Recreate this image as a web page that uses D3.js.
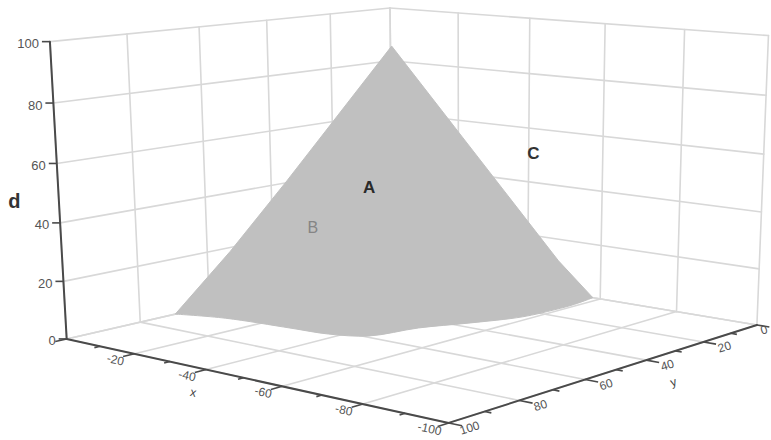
<!DOCTYPE html>
<html>
<head>
<meta charset="utf-8">
<script src="https://cdn.jsdelivr.net/npm/d3@7"></script>
<style>
  body { margin: 0; background: #fff; }
  svg { display: block; font-family: "Liberation Sans", Arial, sans-serif; }
</style>
</head>
<body>
<svg id="chart" width="771" height="440"></svg>
<script>
// axis ticks
const xTicks = [0, -20, -40, -60, -80, -100];
const xMinor = [-10, -30, -50, -70, -90];
const yTicks = [0, 20, 40, 60, 80, 100];
const yMinor = [10, 30, 50, 70, 90];
const dTicks = [0, 20, 40, 60, 80, 100];

// possibility surface outline: apex, right flank, front edge of the base, left flank
const surfX = [-44.5, -56, -58, -59, -59, -58, -53, -48, -45, -37.5, -28, -11, 0, -12, -24];
const surfY = [50.5, 10, 0, 8, 15, 25, 37, 47, 59, 63, 64, 66, 70, 65, 60];
const surfD = [97, 16, 0, 0, 0, 0, 0, 0, 0, 0, 0, 0, 0, 24, 50];
const baseFrom = 2, baseTo = 12; // outline indices that lie on the floor

// marked points
const pointNames = ['A', 'B', 'C'];
const pointX = [-42, -31, -49];
const pointY = [55, 60, 10];
const pointD = [50, 35, 54];

const xs = d3.scaleLinear().domain([0, -100]).range([0, 1]);
const ys = d3.scaleLinear().domain([100, 0]).range([0, 1]);
const ds = d3.scaleLinear().domain([0, 100]).range([0, 1]);

// box frame as it sits on screen -> fit a perspective camera (DLT)
const frame = [
  [[0, 0, 0], [68, 337]], [[1, 0, 0], [452, 423]], [[1, 1, 0], [757, 326]], [[0, 1, 0], [392, 265]],
  [[0, 0, 1], [50, 42]], [[0, 1, 1], [392, 7]], [[1, 1, 1], [767, 35]],
  [[0, 0, 0.2], [64, 282]], [[0, 0, 0.4], [60, 224]], [[0, 0, 0.6], [57, 165]], [[0, 0, 0.8], [52, 103]],
  [[0.2, 0, 0], [133, 353]], [[0.4, 0, 0], [205, 369]], [[0.6, 0, 0], [282, 386]], [[0.8, 0, 0], [362, 404]],
];

function solve(A, b) {
  const n = b.length;
  const M = A.map((row, i) => [...row, b[i]]);
  for (let c = 0; c < n; c++) {
    let p = c;
    for (let r = c + 1; r < n; r++) if (Math.abs(M[r][c]) > Math.abs(M[p][c])) p = r;
    [M[c], M[p]] = [M[p], M[c]];
    for (let r = 0; r < n; r++) {
      if (r === c) continue;
      const f = M[r][c] / M[c][c];
      for (let k = c; k <= n; k++) M[r][k] -= f * M[c][k];
    }
  }
  return M.map((row, i) => row[n] / row[i]);
}

function fitCamera(pairs) {
  const rows = [], rhs = [];
  pairs.forEach(([[X, Y, Z], [sx, sy]]) => {
    rows.push([X, Y, Z, 1, 0, 0, 0, 0, -sx * X, -sx * Y, -sx * Z]); rhs.push(sx);
    rows.push([0, 0, 0, 0, X, Y, Z, 1, -sy * X, -sy * Y, -sy * Z]); rhs.push(sy);
  });
  const n = 11;
  const AtA = d3.range(n).map(i => d3.range(n).map(j => d3.sum(rows, r => r[i] * r[j])));
  const Atb = d3.range(n).map(i => d3.sum(rows, (r, k) => r[i] * rhs[k]));
  return solve(AtA, Atb);
}

const P = fitCamera(frame);

function project(x, y, d) {
  const u = xs(x), v = ys(y), w = ds(d);
  const k = P[8] * u + P[9] * v + P[10] * w + 1;
  return [(P[0] * u + P[1] * v + P[2] * w + P[3]) / k, (P[4] * u + P[5] * v + P[6] * w + P[7]) / k];
}

const svg = d3.select('#chart');

/* GRID: floor + two back walls */
const gridLines = [];
xTicks.forEach(x => {
  gridLines.push([[x, 100, 0], [x, 0, 0]]);
  gridLines.push([[x, 0, 0], [x, 0, 100]]);
});
yTicks.forEach(y => {
  gridLines.push([[0, y, 0], [-100, y, 0]]);
  gridLines.push([[0, y, 0], [0, y, 100]]);
});
dTicks.forEach(d => {
  gridLines.push([[0, 100, d], [0, 0, d]]);
  gridLines.push([[0, 0, d], [-100, 0, d]]);
});

const drawSegments = (g, segs) => g.selectAll('line').data(segs).join('line')
  .attr('x1', s => project(...s[0])[0]).attr('y1', s => project(...s[0])[1])
  .attr('x2', s => project(...s[1])[0]).attr('y2', s => project(...s[1])[1]);

svg.append('g').attr('class', 'grid')
  .attr('stroke', '#d8d8d8').attr('stroke-width', 1.6).attr('stroke-linecap', 'round')
  .call(drawSegments, gridLines);

/* SURFACE: straight flanks, smooth base edge */
const outline = surfX.map((x, i) => project(x, surfY[i], surfD[i]));
const flankR = outline.slice(0, baseFrom + 1);
const base = outline.slice(baseFrom, baseTo + 1);
const flankL = outline.slice(baseTo);
const baseCurve = d3.line().curve(d3.curveCatmullRom.alpha(0.5))(base).replace(/^M/, 'L');
const surfacePath = d3.line()(flankR) + baseCurve + d3.line()(flankL).replace(/^M/, 'L') + 'Z';
svg.append('path').attr('class', 'surface')
  .attr('d', surfacePath)
  .attr('fill', '#c0c0c0').attr('stroke', '#c0c0c0').attr('stroke-width', 1)
  .attr('stroke-linejoin', 'round');

/* AXES */
const axisG = svg.append('g').attr('class', 'axes')
  .attr('stroke', '#4a4a4a').attr('stroke-width', 2).attr('stroke-linecap', 'round');
axisG.call(drawSegments, [
  [[0, 100, 0], [0, 100, 100]],
  [[0, 100, 0], [-100, 100, 0]],
  [[-100, 100, 0], [-100, 0, 0]],
]);

const tickG = svg.append('g').attr('class', 'ticks').attr('stroke', '#4a4a4a').attr('stroke-width', 1.6);
tickG.append('g').call(drawSegments, [
  ...xTicks.map(x => [[x, 100, 0], [x, 103, 0]]),
  ...xMinor.map(x => [[x, 100, 0], [x, 101.5, 0]]),
  ...yTicks.map(y => [[-100, y, 0], [-103, y, 0]]),
  ...yMinor.map(y => [[-100, y, 0], [-101.5, y, 0]]),
]);
tickG.append('g').selectAll('line').data(dTicks).join('line')
  .attr('x1', d => project(0, 100, d)[0] - 8).attr('x2', d => project(0, 100, d)[0])
  .attr('y1', d => project(0, 100, d)[1]).attr('y2', d => project(0, 100, d)[1]);

const angle = (a, b) => Math.atan2(b[1] - a[1], b[0] - a[0]) * 180 / Math.PI;
const xAngle = angle(project(0, 100, 0), project(-100, 100, 0));
const yAngle = angle(project(-100, 100, 0), project(-100, 0, 0));

/* TICK LABELS */
const labelG = svg.append('g').attr('class', 'tick-labels')
  .attr('fill', '#555').attr('font-size', 12);

labelG.selectAll('text.d-label').data(dTicks).join('text').attr('class', 'd-label')
  .attr('x', d => project(0, 100, d)[0] - 11).attr('y', d => project(0, 100, d)[1] + 2)
  .attr('text-anchor', 'end').attr('dominant-baseline', 'central').attr('font-size', 13)
  .text(d => d);

labelG.selectAll('text.x-label').data(xTicks.filter(x => x !== 0)).join('text').attr('class', 'x-label')
  .attr('transform', x => {
    const [px, py] = project(x, 100, 0);
    return `translate(${px - 19},${py + 6}) rotate(${xAngle})`;
  })
  .attr('text-anchor', 'middle').attr('dominant-baseline', 'central')
  .text(x => x);

labelG.selectAll('text.y-label').data(yTicks).join('text').attr('class', 'y-label')
  .attr('transform', y => {
    const [px, py] = project(-100, y, 0);
    return `translate(${Math.min(px + 21, 764)},${py + 5}) rotate(${yAngle})`;
  })
  .attr('text-anchor', 'middle').attr('dominant-baseline', 'central')
  .text(y => y);

/* AXIS TITLES */
const titleG = svg.append('g').attr('class', 'titles').attr('fill', '#444');
const [xtx, xty] = project(-40, 100, 0);
titleG.append('text').attr('transform', `translate(${xtx - 13},${xty + 23}) rotate(${xAngle})`)
  .attr('text-anchor', 'middle').attr('dominant-baseline', 'central').attr('font-size', 12).text('x');
const [ytx, yty] = project(-100, 40, 0);
titleG.append('text').attr('transform', `translate(${ytx + 27},${yty + 22}) rotate(${yAngle})`)
  .attr('text-anchor', 'middle').attr('dominant-baseline', 'central').attr('font-size', 12).text('y');
const [dtx, dty] = project(0, 100, 50);
titleG.append('text').attr('x', dtx - 44).attr('y', dty + 8)
  .attr('text-anchor', 'middle').attr('dominant-baseline', 'central')
  .attr('font-size', 20).attr('font-weight', 'bold').attr('fill', '#333').text('d');

/* POINT LABELS */
const pointStyle = [
  {size: 17, weight: 'bold', color: '#2a2a2a'},
  {size: 16, weight: 'normal', color: '#858585'},
  {size: 17, weight: 'bold', color: '#333'},
];
svg.append('g').attr('class', 'points').selectAll('text').data(pointNames).join('text')
  .attr('x', (n, i) => project(pointX[i], pointY[i], pointD[i])[0])
  .attr('y', (n, i) => project(pointX[i], pointY[i], pointD[i])[1])
  .attr('text-anchor', 'middle').attr('dominant-baseline', 'central')
  .attr('font-size', (n, i) => pointStyle[i].size)
  .attr('font-weight', (n, i) => pointStyle[i].weight)
  .attr('fill', (n, i) => pointStyle[i].color)
  .text(n => n);
</script>
</body>
</html>
